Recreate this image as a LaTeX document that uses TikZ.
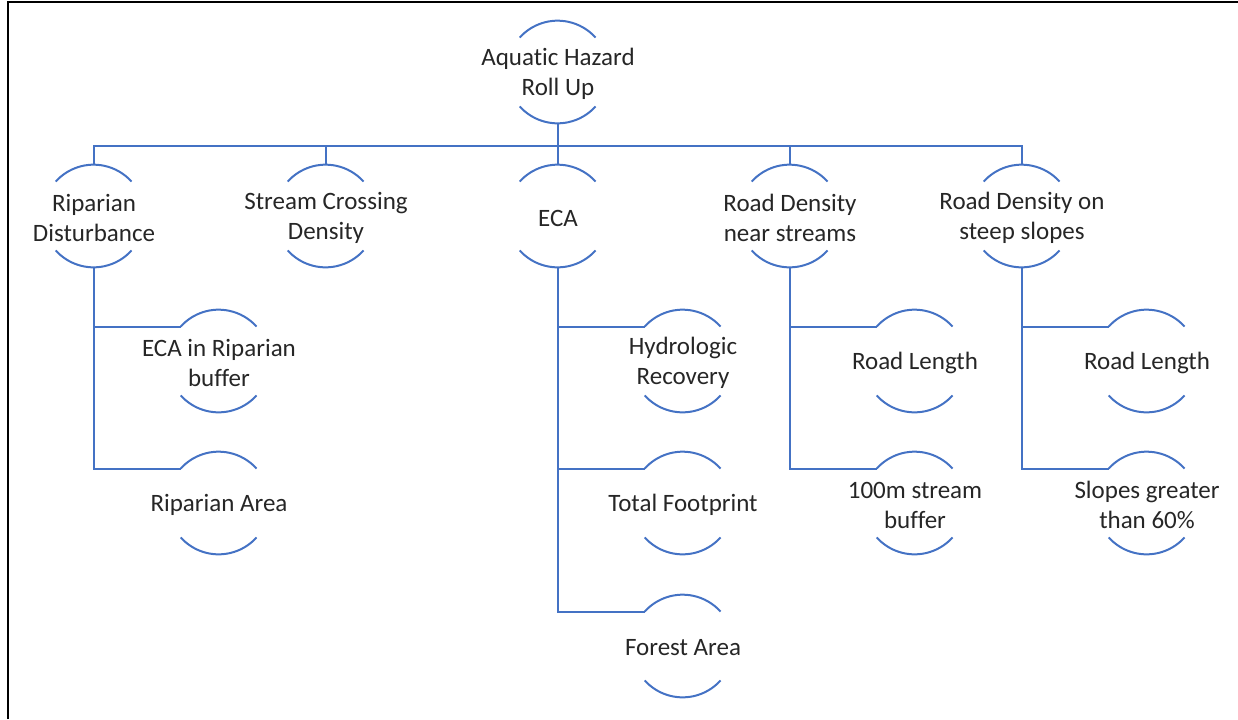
\documentclass[tikz,border=0pt]{standalone}
\usepackage{fontspec}
\setmainfont{Carlito}[Ligatures=NoCommon]
\usepackage{tikz}
\tikzset{every picture/.style={line width=0.75pt}}
\definecolor{arcblue}{RGB}{68,114,196}

\begin{document}
\begin{tikzpicture}[x=0.75pt,y=0.75pt,yscale=-1,xscale=1,
  hub/.style={circle, minimum size=76.5pt, inner sep=0pt},
  lbl/.style={align=center, inner sep=0.75pt, yshift=-1.5pt, text=black!85, font=\fontsize{18.75}{22.5}\selectfont},
  wire/.style={draw=arcblue, line width=1.5pt}]
\useasboundingbox (0,0) rectangle (1238,719);

%Straight Lines: frame
\draw [line width=1.5pt]  (8,719) -- (8,2) -- (1238,2) ;

%Shape: Circle, top
\node [hub] (root) at (558,72) {};
% Text Node
\node [lbl] (root-t) at (root) {Aquatic Hazard\\Roll Up};

%Shape: Circle, first row
\node [hub] (rip) at (94,216) {};
\node [hub] (scd) at (326,216) {};
\node [hub] (eca) at (558,216) {};
\node [hub] (rdn) at (790,216) {};
\node [hub] (rds) at (1022,216) {};
% Text Node
\node [lbl] (rip-t) at (rip) {Riparian\\Disturbance};
\node [lbl] (scd-t) at (scd) {Stream Crossing\\Density};
\node [lbl] (eca-t) at (eca) {ECA};
\node [lbl] (rdn-t) at (rdn) {Road Density\\near streams};
\node [lbl] (rds-t) at (rds) {Road Density on\\steep slopes};

%Shape: Circle, second row
\node [hub] (ecab) at (219,361) {};
\node [hub] (ripa) at (219,503) {};
\node [hub] (hyd) at (683,361) {};
\node [hub] (tfp) at (683,503) {};
\node [hub] (fa) at (683,646) {};
\node [hub] (rl1) at (915,361) {};
\node [hub] (buf) at (915,503) {};
\node [hub] (rl2) at (1147,361) {};
\node [hub] (slp) at (1147,503) {};
% Text Node
\node [lbl] (ecab-t) at (ecab) {ECA in Riparian\\buffer};
\node [lbl] (ripa-t) at (ripa) {Riparian Area};
\node [lbl] (hyd-t) at (hyd) {Hydrologic\\Recovery};
\node [lbl] (tfp-t) at (tfp) {Total Footprint};
\node [lbl] (fa-t) at (fa) {Forest Area};
\node [lbl] (rl1-t) at (rl1) {Road Length};
\node [lbl] (buf-t) at (buf) {100m stream\\buffer};
\node [lbl] (rl2-t) at (rl2) {Road Length};
\node [lbl] (slp-t) at (slp) {Slopes greater\\than 60\%};

%Curve Lines: arcs
\foreach \n in {root,rip,scd,eca,rdn,rds,ecab,ripa,hyd,tfp,fa,rl1,buf,rl2,slp}
  \draw [wire] (\n.138) arc [start angle=-138, end angle=-42, radius=51]
               (\n.-138) arc [start angle=138, end angle=42, radius=51] ;

%Straight Lines: top bar
\foreach \n in {rip,scd,eca,rdn,rds}
  \draw [wire] (root.south) -- ++(0,22) -| (\n.north) ;

%Straight Lines: branches
\draw [wire] (rip.south) |- (ecab.138) ;
\draw [wire] (rip.south) |- (ripa.138) ;
\draw [wire] (eca.south) |- (hyd.138) ;
\draw [wire] (eca.south) |- (tfp.138) ;
\draw [wire] (eca.south) |- (fa.138) ;
\draw [wire] (rdn.south) |- (rl1.138) ;
\draw [wire] (rdn.south) |- (buf.138) ;
\draw [wire] (rds.south) |- (rl2.138) ;
\draw [wire] (rds.south) |- (slp.138) ;

\end{tikzpicture}
\end{document}
